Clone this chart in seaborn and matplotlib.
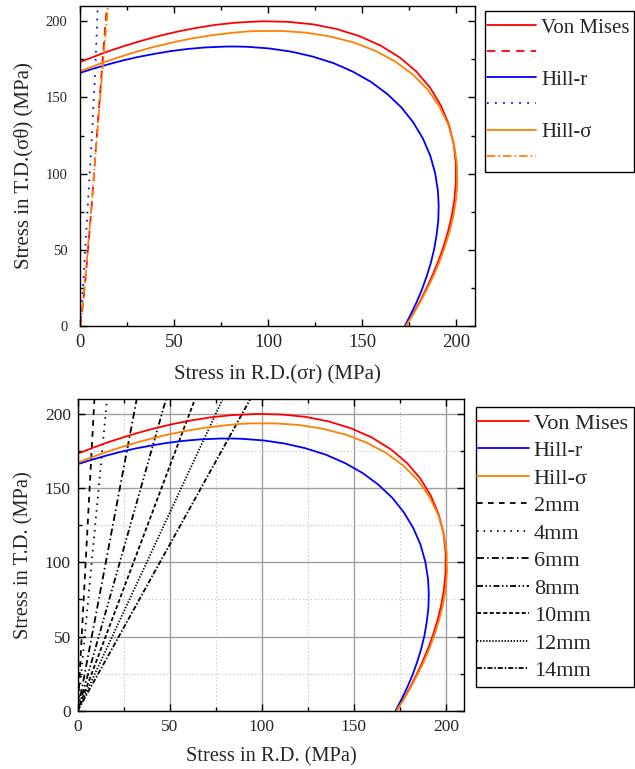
import matplotlib
matplotlib.use("Agg")
import matplotlib.pyplot as plt
import seaborn as sns
from matplotlib.ticker import MultipleLocator
from matplotlib.patches import Rectangle

# ---------------- data ----------------
# yield loci (first quadrant), sigma_RD / sigma_TD in MPa
vm_x = [173.2, 176.9, 180.6, 184.0, 187.3, 190.4, 193.2, 195.6, 197.6, 199.0, 199.8, 199.9, 198.7,
        196.1, 191.9, 186.2, 178.9, 170.1, 159.9, 148.6, 136.4, 123.7, 110.6, 97.5, 84.6, 82.4,
        71.9, 61.7, 51.8, 42.2, 33.0, 24.2, 15.8, 7.7, 0.0]
vm_y = [0.0, 7.7, 15.8, 24.2, 33.0, 42.2, 51.8, 61.7, 71.9, 82.4, 93.2, 106.3, 119.4,
        132.2, 144.6, 156.3, 166.9, 176.1, 184.0, 190.2, 194.9, 198.0, 199.6, 200.0, 199.2, 199.0,
        197.6, 195.6, 193.2, 190.4, 187.3, 184.0, 180.6, 176.9, 173.2]
hr_x = [172.7, 175.9, 179.0, 181.8, 184.3, 186.5, 188.3, 189.6, 190.5, 190.7, 190.3, 188.8, 186.2,
        182.3, 177.2, 170.9, 163.3, 154.7, 145.1, 134.8, 123.8, 112.5, 100.9, 89.3, 83.6, 77.8,
        66.5, 57.3, 48.3, 39.6, 31.1, 22.9, 15.0, 7.4, 0.0]
hr_y = [0.0, 7.7, 15.7, 23.9, 32.5, 41.3, 50.4, 59.8, 69.3, 79.0, 88.7, 100.4, 111.9,
        123.0, 133.6, 143.4, 152.3, 160.2, 166.9, 172.5, 176.8, 180.0, 182.1, 183.2, 183.4, 183.4,
        182.8, 181.8, 180.4, 178.6, 176.6, 174.3, 171.7, 169.0, 166.1]
hs_x = [173.2, 177.1, 180.9, 184.5, 188.0, 191.2, 194.0, 196.5, 198.5, 199.9, 200.6, 200.4, 198.8,
        195.8, 191.1, 184.9, 177.0, 167.6, 157.0, 145.4, 133.0, 120.3, 107.3, 94.4, 88.0, 81.7,
        69.4, 59.5, 49.9, 40.7, 31.8, 23.4, 15.2, 7.5, 0.0]
hs_y = [0.0, 7.7, 15.8, 24.3, 33.1, 42.4, 52.0, 62.0, 72.2, 82.8, 93.5, 106.5, 119.5,
        132.1, 144.0, 155.1, 165.0, 173.6, 180.6, 186.1, 190.0, 192.5, 193.6, 193.6, 193.2, 192.5,
        190.7, 188.7, 186.3, 183.6, 180.6, 177.5, 174.1, 170.7, 167.2]

criteria = ["Von Mises", "Hill-r", "Hill-σ"]

# stress paths of the upper chart
path_y = [0.0, 14.5, 36.4, 80.2, 124.0, 167.8, 211.6]
vm_path_x = [0.0, 1.6, 3.3, 6.3, 8.9, 11.6, 14.4]
hr_path_x = [0.0, 1.0, 2.1, 4.2, 6.3, 8.1, 9.5]
hs_path_x = [0.0, 1.5, 3.2, 6.2, 9.0, 11.9, 15.0]

# stress paths of the lower chart (from origin to top edge)
sizes = ["2mm", "4mm", "6mm", "8mm", "10mm", "12mm", "14mm"]
size_top_x = [9.1, 16.0, 32.2, 48.2, 64.0, 79.1, 94.2]
size_y = [0.0, 211.0]

# ---------------- style ----------------
sns.set_style("ticks")
plt.rcParams["font.family"] = ["Liberation Serif", "DejaVu Serif"]
plt.rcParams["lines.scale_dashes"] = False
plt.rcParams["axes.linewidth"] = 1.0

RED, BLUE, ORANGE = "#FF0000", "#0000FF", "#FF8000"
loci = [(vm_x, vm_y, RED), (hr_x, hr_y, BLUE), (hs_x, hs_y, ORANGE)]
paths = [(vm_path_x, RED, (0, (6, 4.5))), (hr_path_x, BLUE, (0, (1.2, 4.6))),
         (hs_path_x, ORANGE, (0, (6, 2.2, 1.2, 2.2)))]
size_styles = [(0, (4.1, 3.8)), (0, (1.1, 3.7)), (0, (5, 2.3, 1.1, 2.3)),
               (0, (4.3, 1.8, 1.1, 1.8, 1.1, 1.8)), (0, (2.9, 1.7)), (0, (1.0, 1.2)),
               (0, (3.6, 1.4, 1.1, 1.4))]

fig = plt.figure(figsize=(6.35, 7.69), dpi=100)
ax1 = fig.add_axes([0.1260, 0.5761, 0.6220, 0.4161])
ax2 = fig.add_axes([0.1224, 0.0758, 0.6088, 0.4053])

# ---------- upper chart ----------
for (lx, ly, col), (px, pcol, pls), name in zip(loci, paths, criteria):
    sns.lineplot(x=lx, y=ly, sort=False, estimator=None, color=col, lw=1.3, ax=ax1, label=name)
    sns.lineplot(x=px, y=path_y, sort=False, estimator=None, color=pcol, lw=1.3,
                 linestyle=pls, ax=ax1, label=" ")

# ---------- lower chart ----------
for tx, ls, name in zip(size_top_x, size_styles, sizes):
    sns.lineplot(x=[0.0, tx], y=size_y, sort=False, estimator=None, color="black", lw=1.3,
                 linestyle=ls, ax=ax2, label=name)
for (lx, ly, col), name in zip(loci, criteria):
    sns.lineplot(x=lx, y=ly, sort=False, estimator=None, color=col, lw=1.3, ax=ax2, label=name)

for ax in (ax1, ax2):
    if ax.get_legend() is not None:
        ax.get_legend().remove()
    ax.set_xlim(0, 210)
    ax.set_ylim(0, 210)
    ax.xaxis.set_major_locator(MultipleLocator(50))
    ax.yaxis.set_major_locator(MultipleLocator(50))
    ax.xaxis.set_minor_locator(MultipleLocator(25))
    ax.yaxis.set_minor_locator(MultipleLocator(25))
    ax.tick_params(which="both", direction="in", top=True, right=True, color="black", width=1.0)
    ax.tick_params(which="major", length=5)
    ax.tick_params(which="minor", length=3)
    for s in ax.spines.values():
        s.set_color("black")
        s.set_linewidth(1.0)

ax1.tick_params(axis="x", labelsize=13.5, pad=6)
ax1.tick_params(axis="y", labelsize=10.5, pad=9)
ax1.set_xlabel("Stress in R.D.(σr) (MPa)", fontsize=15, labelpad=10)
ax1.set_ylabel("Stress in T.D.(σθ) (MPa)", fontsize=15, labelpad=9)

ax2.tick_params(axis="x", labelsize=12.5, pad=6)
ax2.tick_params(axis="y", labelsize=12.5, pad=5)
ax2.set_xlabel("Stress in R.D. (MPa)", fontsize=14.7, labelpad=9)
ax2.set_ylabel("Stress in T.D. (MPa)", fontsize=14.7, labelpad=8)
ax2.grid(which="major", color="#A0A0A0", lw=1.0, ls="-")
ax2.grid(which="minor", color="#C8C8C8", lw=0.8, ls=":")
ax2.set_axisbelow(True)

# ---------- legends (entries + separate frame boxes) ----------
h1 = ax1.get_lines()
lab1 = ["Von Mises", "", "Hill-r", "", "Hill-σ", ""]
fig.legend(h1, lab1, loc="upper left", bbox_to_anchor=(0.7665, 0.9765),
           bbox_transform=fig.transFigure, fontsize=15, frameon=False,
           borderaxespad=0, borderpad=0, handlelength=2.35, handletextpad=0.25,
           labelspacing=0.31)
fig.add_artist(Rectangle((0.7638, 0.7767), 0.2351, 0.2090, transform=fig.transFigure,
                         fill=False, edgecolor="black", lw=1.0))

lines2 = ax2.get_lines()
h2 = lines2[7:10] + lines2[0:7]
lab2 = criteria + sizes
fig.legend(h2, lab2, loc="upper left", bbox_to_anchor=(0.7517, 0.4629),
           bbox_transform=fig.transFigure, fontsize=16, frameon=False,
           borderaxespad=0, borderpad=0, handlelength=2.34, handletextpad=0.2,
           labelspacing=0.313)
fig.add_artist(Rectangle((0.7491, 0.1062), 0.2493, 0.3649, transform=fig.transFigure,
                         fill=False, edgecolor="black", lw=1.0))

fig.savefig("out.png", dpi=100)
